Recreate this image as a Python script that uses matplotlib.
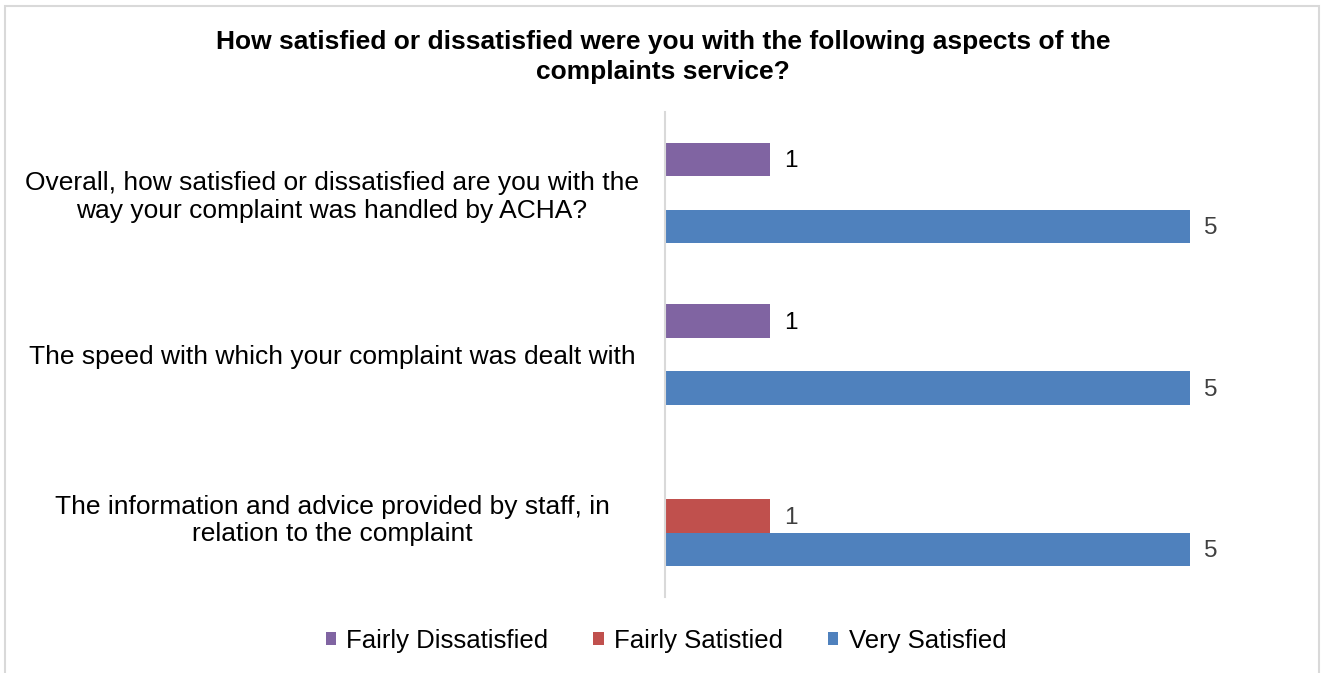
import numpy as np
import matplotlib.pyplot as plt
from matplotlib.patches import Rectangle

plt.rcParams['font.family'] = ['Liberation Sans', 'DejaVu Sans']

# Veriler
categories = [
    "Overall, how satisfied or dissatisfied are you with the\nway your complaint was handled by ACHA?",
    "The speed with which your complaint was dealt with",
    "The information and advice provided by staff, in\nrelation to the complaint",
]
series_names = ["Fairly Dissatisfied", "Fairly Satistied", "Very Satisfied"]
fairly_dissatisfied = [1, 1, np.nan]
fairly_satisfied = [np.nan, np.nan, 1]
very_satisfied = [5, 5, 5]
colors = ["#8064A2", "#C0504D", "#4F81BD"]
label_colors = ["#000000", "#404040", "#404040"]

W, H = 1322, 673
fig = plt.figure(figsize=(W / 100, H / 100), dpi=100)
ax = fig.add_axes([665 / W, 1 - 597 / H, 630 / W, 485 / H])

y = np.arange(len(categories))
h = 0.207
offsets = [-h, 0, h]
values = [fairly_dissatisfied, fairly_satisfied, very_satisfied]

for name, vals, off, col, lc in zip(series_names, values, offsets, colors, label_colors):
    bars = ax.barh(y + off, vals, height=h, color=col, label=name)
    for b, v in zip(bars, vals):
        if np.isnan(v):
            continue
        ax.text(v + 0.13, b.get_y() + b.get_height() / 2 + 0.01, f"{int(v)}",
                va="center", ha="left", fontsize=17.5, color=lc)

ax.set_xlim(0, 6)
ax.set_ylim(2.5, -0.5)
ax.set_xticks([])
ax.set_yticks(y)
ax.set_yticklabels(categories, fontsize=19, ha="center", multialignment="center",
                   linespacing=1.18)
ax.tick_params(axis="y", length=0, pad=(665 - 332) * 0.72)
for s in ["top", "right", "bottom"]:
    ax.spines[s].set_visible(False)
ax.spines["left"].set_color("#D9D9D9")
ax.spines["left"].set_linewidth(1.5)

fig.text(663 / W, 1 - 57 / H,
         "How satisfied or dissatisfied were you with the following aspects of the\ncomplaints service?",
         ha="center", va="center", fontsize=19, fontweight="bold", linespacing=1.32)

fig.legend(loc="center", bbox_to_anchor=(666 / W, 1 - 641 / H), ncol=3, frameon=False,
           fontsize=18.5, handlelength=0.4, handleheight=0.4, handletextpad=0.4,
           columnspacing=1.75)

fig.patches.append(Rectangle((5 / W, -0.05), 1314 / W, 1.05 - 6 / H,
                             transform=fig.transFigure, fill=False,
                             edgecolor="#D9D9D9", linewidth=1.5))

fig.savefig("out.png", dpi=100)
